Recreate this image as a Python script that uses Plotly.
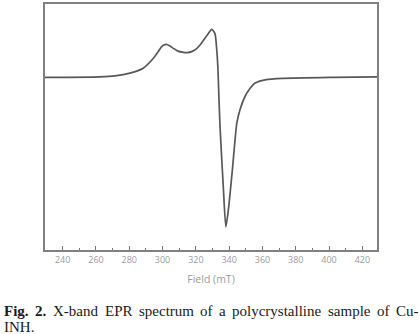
import plotly.graph_objects as go

# Field (mT) and EPR intensity (arbitrary units)
field = [229.4, 262.4, 271.4, 280.4, 288.4, 294.5, 299.5, 300.8, 302.1, 304.2,
         306.5, 309.3, 312.5, 315.0, 317.5, 320.1, 322.5, 327.5, 329.5, 331.5,
         332.4, 333.2, 333.9, 334.5, 336.5, 338.0, 339.5, 341.9, 344.6, 346.6,
         349.6, 352.6, 355.6, 361.6, 372.4, 402.4, 428.9]
intensity = [0, 0.5, 1.5, 4.3, 9.3, 19.3, 31, 32.7, 33.3, 32,
             29.3, 26.5, 25.3, 25, 26, 28.5, 32.7, 44.3, 48.5, 44,
             31, 11, -22, -49, -110.7, -150.7, -134, -94, -46, -32,
             -19, -11, -5.7, -2.5, -1, 0, 0.5]

tick_vals = [240, 260, 280, 300, 320, 340, 360, 380, 400, 420]
x_title = "Field (mT)"

caption_line1 = ["<b>Fig.</b>", "<b>2.</b>", "X-band", "EPR", "spectrum", "of", "a",
                 "polycrystalline", "sample", "of", "Cu-"]
caption_line2 = ["INH."]

# pixel positions of caption words (layout only, justified first line)
line1_x = [2, 33, 51, 102.5, 136.5, 198, 217, 230, 325.5, 374.5, 393.5]
line2_x = [2]

W, H = 420, 334
L, R, T, B = 45, 43, 2, 84
plot_h = H - T - B

fig = go.Figure()
fig.add_trace(go.Scatter(x=field, y=intensity, mode="lines",
                         line=dict(color="#585858", width=1.7, shape="spline", smoothing=0.6),
                         showlegend=False, hoverinfo="skip"))

def ypaper(py):
    return (H - B - py) / plot_h

def xpaper(px):
    return (px - L) / (W - L - R)

annotations = []
for words, xs, py in ((caption_line1, line1_x, 311), (caption_line2, line2_x, 328)):
    for text, px in zip(words, xs):
        annotations.append(dict(text=text, x=xpaper(px), y=ypaper(py), xref="paper", yref="paper",
                                xanchor="left", yanchor="middle", showarrow=False,
                                font=dict(family="Liberation Serif", size=15, color="#1a1a1a")))

fig.update_layout(
    width=W, height=H,
    margin=dict(l=L, r=R, t=T, b=B, pad=0),
    paper_bgcolor="white", plot_bgcolor="white",
    xaxis=dict(range=[229.4, 428.8], tickvals=tick_vals, ticks="inside", ticklen=4,
               tickcolor="#777777", tickwidth=1.2,
               minor=dict(ticks="inside", dtick=10, ticklen=2.5, tickcolor="#777777", tickwidth=1),
               showline=True, linecolor="#808080", linewidth=1.5, mirror=True,
               showgrid=False, zeroline=False,
               tickfont=dict(family="Open Sans", size=9, color="#9a9a9a"),
               title=dict(text=x_title, font=dict(family="Open Sans", size=10.5, color="#9a9a9a"),
                          standoff=11)),
    yaxis=dict(range=[-174, 74], showticklabels=False, ticks="", showline=True,
               linecolor="#808080", linewidth=1.5, mirror=True, showgrid=False, zeroline=False),
    annotations=annotations,
)

fig.write_html("out.html", config={"displayModeBar": False},
               post_script="document.body.style.margin='0';document.body.style.padding='0';document.body.style.overflow='hidden';")
